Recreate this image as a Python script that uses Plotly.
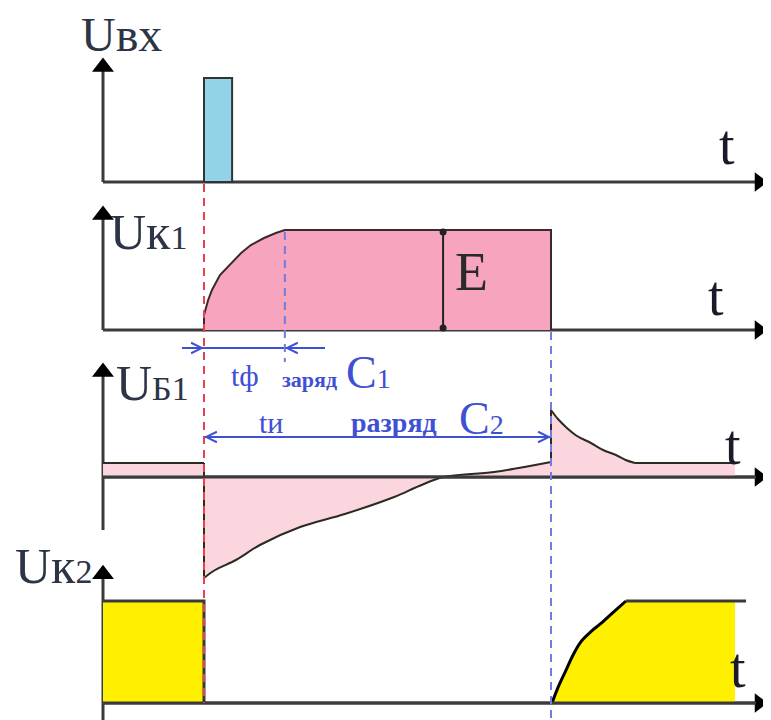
import plotly.graph_objects as go

# ---------------- data (time in % of pulse duration t_и, voltages in relative units) -------------
# Input trigger pulse U_вх
uvx_t = [0, 0, 8.1, 8.1, 0]
uvx_v = [0, 1, 1, 0, 0]

# Collector voltage U_к1 (front t_ф then flat at E until end of t_и)
uk1_t = [0, 0, 1.2, 2.3, 4.6, 7.8, 10.7, 13.5, 17.3, 20.7, 23.3, 100, 100]
uk1_v = [0, 0.15, 0.30, 0.40, 0.55, 0.67, 0.77, 0.85, 0.92, 0.97, 1.0, 1.0, 0]

# Base voltage U_б1
ub1_pre_t = [-29.1, 0]
ub1_pre_v = [0.14, 0.14]
ub1_t = [0, 3.2, 9.2, 16.1, 27.7, 40.6, 54.8, 62.0, 69.0, 83.6, 100]
ub1_v = [-1.01, -0.93, -0.83, -0.68, -0.50, -0.37, -0.20, -0.09, 0.0, 0.05, 0.15]
ub1_post_t = [100, 102.0, 104.3, 107.5, 111.5, 115.0, 118.7, 121.5, 124.2]
ub1_post_v = [0.67, 0.58, 0.50, 0.41, 0.34, 0.27, 0.22, 0.17, 0.14]
ub1_tail_t = [124.2, 153.0]
ub1_tail_v = [0.14, 0.14]

# Collector voltage U_к2
uk2_pre_t = [-29.1, 0, 0]
uk2_pre_v = [1, 1, 0]
uk2_t = [100.3, 102.0, 104.3, 106.5, 108.6, 111.5, 114.4, 118.0, 121.6, 156.2]
uk2_v = [0, 0.15, 0.32, 0.48, 0.60, 0.70, 0.78, 0.89, 1.0, 1.0]

T_FRONT = 23.3      # t_ф
T_PULSE = 100       # t_и
E_AT = 68.9         # position of the E dimension

# ---------------- layout helpers ----------------
OFF = 8                      # default page margin of the html body
W_REF, H_REF = 771, 720
W, H = W_REF - OFF, H_REF - OFF
X0_PX, PX_PER_T = 204, 3.47
T_ORIGIN = (103 - X0_PX) / PX_PER_T


def tpx(px):
    return (px - X0_PX) / PX_PER_T


def yr(base, unit):
    return [(base - H_REF) / unit, (base - OFF) / unit]


def xp(px):
    return (px - OFF) / W


def yp(py):
    return 1 - (py - OFF) / H


panels = {  # yaxis name: (baseline px, px per unit, tip value, bottom value)
    "y": (182, 104, 1.22, 0),
    "y2": (330, 100, 1.27, 0),
    "y3": (477, 100, 1.17, -0.53),
    "y4": (703, 102, 1.38, -0.17),
}

AX = "#3b3b3b"
CURVE = "#2b2b22"
BLUE = "#3f50d4"
PINK_L = "#fbd6de"

fig = go.Figure()

# axes with arrowheads
for ya, (base, unit, top, bot) in panels.items():
    fig.add_trace(go.Scatter(x=[T_ORIGIN, tpx(756)], y=[0, 0], yaxis=ya, mode="lines",
                             line=dict(color=AX, width=3), hoverinfo="skip", showlegend=False))
    fig.add_trace(go.Scatter(x=[T_ORIGIN, T_ORIGIN], y=[bot, top - 10 / unit], yaxis=ya, mode="lines",
                             line=dict(color=AX, width=3), hoverinfo="skip", showlegend=False))
    fig.add_trace(go.Scatter(x=[tpx(759)], y=[0], yaxis=ya, mode="markers", cliponaxis=False,
                             marker=dict(symbol="triangle-right", size=17, color="black"),
                             hoverinfo="skip", showlegend=False))
    fig.add_trace(go.Scatter(x=[T_ORIGIN], y=[top - 12 / unit], yaxis=ya, mode="markers",
                             cliponaxis=False,
                             marker=dict(symbol="triangle-up", size=19, color="black"),
                             hoverinfo="skip", showlegend=False))

# panel 1: trigger pulse
fig.add_trace(go.Scatter(x=uvx_t, y=uvx_v, yaxis="y", mode="lines", fill="toself",
                         fillcolor="#93d3e8", line=dict(color="#333333", width=2),
                         showlegend=False))

# panel 2: U_к1
fig.add_trace(go.Scatter(x=uk1_t, y=uk1_v, yaxis="y2", mode="lines", fill="tozeroy",
                         fillcolor="#f7a4bf", line=dict(color="#3a2a2a", width=2),
                         showlegend=False))
fig.add_trace(go.Scatter(x=[E_AT, E_AT], y=[0.02, 0.98], yaxis="y2", mode="lines+markers",
                         marker=dict(symbol="circle", size=7, color="#222"),
                         line=dict(color="#222", width=2), showlegend=False))

# panel 3: U_б1
for tt, vv, shp in [(ub1_pre_t, ub1_pre_v, "linear"), (ub1_t, ub1_v, "spline"),
                    (ub1_post_t, ub1_post_v, "spline"), (ub1_tail_t, ub1_tail_v, "linear")]:
    fig.add_trace(go.Scatter(x=tt, y=vv, yaxis="y3", mode="lines", fill="tozeroy",
                             fillcolor=PINK_L, line=dict(color=CURVE, width=2, shape=shp),
                             showlegend=False))
fig.add_trace(go.Scatter(x=[0, 0], y=[ub1_pre_v[-1], ub1_v[0]], yaxis="y3", mode="lines",
                         line=dict(color=CURVE, width=2), showlegend=False))
fig.add_trace(go.Scatter(x=[100, 100], y=[ub1_v[-1], ub1_post_v[0]], yaxis="y3", mode="lines",
                         line=dict(color=CURVE, width=2), showlegend=False))
fig.add_trace(go.Scatter(x=[T_ORIGIN, tpx(756)], y=[0, 0], yaxis="y3", mode="lines",
                         line=dict(color=AX, width=3), hoverinfo="skip", showlegend=False))

# panel 4: U_к2
fig.add_trace(go.Scatter(x=uk2_pre_t + [T_ORIGIN], y=uk2_pre_v + [0], yaxis="y4", mode="lines",
                         fill="toself", fillcolor="#fff000", line=dict(width=0),
                         showlegend=False))
fig.add_trace(go.Scatter(x=uk2_pre_t, y=uk2_pre_v, yaxis="y4", mode="lines",
                         line=dict(color="#3a3a3a", width=3), showlegend=False))
fig.add_trace(go.Scatter(x=uk2_t[:-1] + [tpx(735), tpx(735)], y=uk2_v[:-1] + [1, 0], yaxis="y4",
                         mode="lines", fill="toself", fillcolor="#fff000", line=dict(width=0),
                         showlegend=False))
fig.add_trace(go.Scatter(x=uk2_t[:-1], y=uk2_v[:-1], yaxis="y4", mode="lines",
                         line=dict(color="black", width=3, shape="spline"), showlegend=False))
fig.add_trace(go.Scatter(x=uk2_t[-2:], y=uk2_v[-2:], yaxis="y4", mode="lines",
                         line=dict(color="#3a3a3a", width=3), showlegend=False))
fig.add_trace(go.Scatter(x=[T_ORIGIN, tpx(756)], y=[0, 0], yaxis="y4", mode="lines",
                         line=dict(color=AX, width=3), hoverinfo="skip", showlegend=False))

# dashed guide lines
shapes = [
    dict(type="line", xref="x", yref="paper", x0=0, x1=0, y0=yp(184), y1=yp(703),
         line=dict(color="#e8404c", width=2, dash="8px,6px")),
    dict(type="line", xref="x", yref="paper", x0=T_FRONT, x1=T_FRONT, y0=yp(232), y1=yp(362),
         line=dict(color="#6f7de0", width=2, dash="8px,6px")),
    dict(type="line", xref="x", yref="paper", x0=T_PULSE, x1=T_PULSE, y0=yp(332), y1=yp(720),
         line=dict(color="#6f7de0", width=2, dash="8px,6px")),
]

ann = []
# blue dimension arrows
Y_TF = -0.18
fig.add_trace(go.Scatter(x=[tpx(182), tpx(325)], y=[Y_TF, Y_TF], yaxis="y2", mode="lines",
                         line=dict(color=BLUE, width=2), showlegend=False))
for tip, tail in [(0, tpx(184)), (T_FRONT, tpx(305))]:
    ann.append(dict(x=tip, y=Y_TF, ax=tail, ay=Y_TF, xref="x", yref="y2", axref="x", ayref="y2",
                    showarrow=True, arrowhead=5, arrowsize=1.3, arrowwidth=1.6,
                    arrowcolor=BLUE, text=""))
Y_TI = 0.40
fig.add_trace(go.Scatter(x=[0, T_PULSE], y=[Y_TI, Y_TI], yaxis="y3", mode="lines",
                         line=dict(color=BLUE, width=2), showlegend=False))
for tip, tail in [(0, 15), (T_PULSE, 85)]:
    ann.append(dict(x=tip, y=Y_TI, ax=tail, ay=Y_TI, xref="x", yref="y3", axref="x", ayref="y3",
                    showarrow=True, arrowhead=5, arrowsize=1.3, arrowwidth=1.6,
                    arrowcolor=BLUE, text=""))

SERIF = "Liberation Serif"
LBL = "#2c3446"


def txt(s, x, y, size, color=LBL, anchor="left", bold=False):
    ann.append(dict(text=("<b>%s</b>" % s) if bold else s, x=xp(x), y=yp(y), xref="paper",
                    yref="paper", showarrow=False, xanchor=anchor, yanchor="middle",
                    font=dict(family=SERIF, size=size, color=color)))


txt("Uвх", 79, 35, 48)
txt("Uк<span style='font-size:34px'>1</span>", 108, 232, 50)
txt("U<span style='font-size:34px'>Б1</span>", 114, 383, 50)
txt("Uк<span style='font-size:34px'>2</span>", 13, 566, 50)
for tx, ty in [(717, 145), (706, 296), (723, 445), (728, 668)]:
    txt("t", tx, ty, 56, color="#1a1a2a")
txt("E", 453, 272, 54, color="#2a2a2a")

txt("tф", 229, 375, 30, color=BLUE)
txt("заряд", 280, 379, 22, color=BLUE, bold=True)
txt("C<span style='font-size:28px'>1</span>", 344, 372, 46, color=BLUE)
txt("tи", 257, 423, 30, color=BLUE)
txt("разряд", 349, 423, 28, color=BLUE, bold=True)
txt("C<span style='font-size:28px'>2</span>", 457, 418, 46, color=BLUE)

layout_axes = {}
for i, (ya, (base, unit, top, bot)) in enumerate(panels.items()):
    key = "yaxis" if ya == "y" else "yaxis" + ya[1:]
    d = dict(range=yr(base, unit), domain=[0, 1], visible=False, fixedrange=True)
    if ya != "y":
        d["overlaying"] = "y"
    layout_axes[key] = d

fig.update_layout(
    width=W, height=H, margin=dict(l=0, r=0, t=0, b=0),
    paper_bgcolor="white", plot_bgcolor="white",
    xaxis=dict(range=[tpx(OFF), tpx(W_REF)], domain=[0, 1], visible=False, fixedrange=True),
    shapes=shapes, annotations=ann, showlegend=False,
    **layout_axes,
)

fig.write_html("out.html")
